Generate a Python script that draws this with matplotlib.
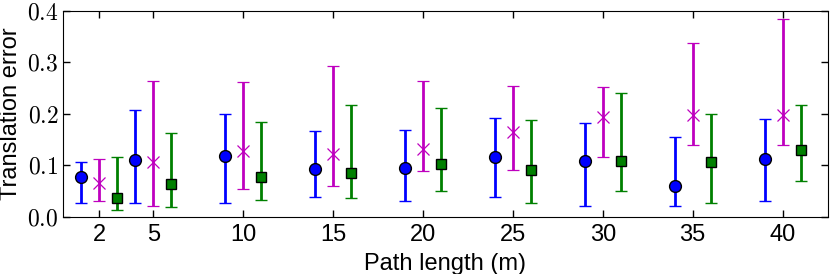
import numpy as np
import matplotlib.pyplot as plt

plt.rcParams['font.family'] = ['Liberation Sans', 'DejaVu Sans']
plt.rcParams['mathtext.fontset'] = 'cm'

path_len = [2, 5, 10, 15, 20, 25, 30, 35, 40]

# blue circles
blue_mean = [0.077, 0.111, 0.118, 0.092, 0.094, 0.115, 0.108, 0.060, 0.112]
blue_low = [0.026, 0.026, 0.026, 0.038, 0.030, 0.038, 0.021, 0.021, 0.030]
blue_high = [0.107, 0.207, 0.200, 0.166, 0.168, 0.191, 0.181, 0.155, 0.189]

# magenta crosses
mag_mean = [0.066, 0.106, 0.128, 0.121, 0.132, 0.164, 0.194, 0.197, 0.197]
mag_low = [0.030, 0.020, 0.054, 0.059, 0.089, 0.090, 0.116, 0.140, 0.139]
mag_high = [0.113, 0.263, 0.261, 0.293, 0.263, 0.253, 0.252, 0.338, 0.384]

# green squares
green_mean = [0.036, 0.064, 0.077, 0.085, 0.103, 0.091, 0.109, 0.106, 0.130]
green_low = [0.013, 0.019, 0.032, 0.037, 0.049, 0.027, 0.049, 0.027, 0.069]
green_high = [0.115, 0.163, 0.184, 0.216, 0.212, 0.188, 0.241, 0.199, 0.216]


def asym_err(mean, low, high):
    mean = np.array(mean)
    return [mean - np.array(low), np.array(high) - mean]


fig = plt.figure(figsize=(8.3, 2.74), dpi=100)
ax = fig.add_axes([0.0763, 0.209, 0.9207, 0.752])

x = np.array(path_len)
series = [
    (x - 1, blue_mean, blue_low, blue_high, (0, 0, 1), 'o', 8.5, 'k', 1),
    (x, mag_mean, mag_low, mag_high, (0.75, 0, 0.75), 'x', 9, (0.75, 0, 0.75), 0.9),
    (x + 1, green_mean, green_low, green_high, (0, 0.5, 0), 's', 7.5, 'k', 1),
]
for xs, m, lo, hi, col, mk, ms, mec, mew in series:
    ax.errorbar(xs, m, yerr=asym_err(m, lo, hi), fmt=mk, color=col,
                ecolor=col, elinewidth=2, capsize=4, capthick=1.5,
                markersize=ms, markeredgecolor=mec, markeredgewidth=mew)

ax.set_xlim(0, 42.5)
ax.set_ylim(0, 0.4)
ax.set_xticks(path_len)
ax.set_xticklabels([str(v) for v in path_len], fontsize=17)
yt = [0.0, 0.1, 0.2, 0.3, 0.4]
ax.set_yticks(yt)
ax.set_yticklabels([r'$%.1f$' % v for v in yt], fontsize=17)
ax.tick_params(direction='in', top=True, right=True, length=5, width=1)
ax.tick_params(axis='x', pad=5)
ax.set_xlabel('Path length (m)', fontsize=17, labelpad=5)
ax.set_ylabel('Translation error', fontsize=17, labelpad=4)

fig.savefig('out.png', dpi=100)
